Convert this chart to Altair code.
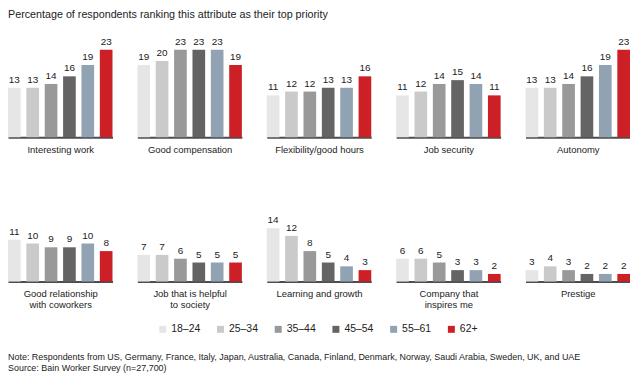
import altair as alt
import pandas as pd

FONT = "Liberation Sans"

ages = ["18–24", "25–34", "35–44", "45–54", "55–61", "62+"]
colors = ["#e6e6e6", "#cacaca", "#999999", "#646464", "#91a3b2", "#cc1f26"]

attributes = [
    ["Interesting work"],
    ["Good compensation"],
    ["Flexibility/good hours"],
    ["Job security"],
    ["Autonomy"],
    ["Good relationship", "with coworkers"],
    ["Job that is helpful", "to society"],
    ["Learning and growth"],
    ["Company that", "inspires me"],
    ["Prestige"],
]

interesting_work = [13, 13, 14, 16, 19, 23]
good_compensation = [19, 20, 23, 23, 23, 19]
flexibility = [11, 12, 12, 13, 13, 16]
job_security = [11, 12, 14, 15, 14, 11]
autonomy = [13, 13, 14, 16, 19, 23]
good_relationship = [11, 10, 9, 9, 10, 8]
helpful_to_society = [7, 7, 6, 5, 5, 5]
learning_growth = [14, 12, 8, 5, 4, 3]
inspiring_company = [6, 6, 5, 3, 3, 2]
prestige = [3, 4, 3, 2, 2, 2]

series = [interesting_work, good_compensation, flexibility, job_security, autonomy,
          good_relationship, helpful_to_society, learning_growth, inspiring_company, prestige]

title_text = "Percentage of respondents ranking this attribute as their top priority"
note_lines = [
    "Note: Respondents from US, Germany, France, Italy, Japan, Australia, Canada, Finland, Denmark, Norway, Saudi Arabia, Sweden, UK, and UAE",
    "Source: Bain Worker Survey (n=27,700)",
]

PW, PH = 105, 88
TOTAL_W = 5 * PW + 4 * 25
LEG_STEP = 58
LEG_X0 = (TOTAL_W - 6 * LEG_STEP) / 2

color_scale = alt.Scale(domain=ages, range=colors)


def panel(attr, vals):
    d = pd.DataFrame({"age": ages, "value": vals})
    base = alt.Chart(d).encode(
        x=alt.X("age:N", sort=ages,
                scale=alt.Scale(domain=ages, paddingInner=0.31, paddingOuter=0),
                axis=alt.Axis(labels=False, ticks=False, grid=False,
                              title=attr, titleFont=FONT, titleFontSize=9.5,
                              titleFontWeight="normal", titleColor="#222",
                              titlePadding=7, titleLineHeight=11.5,
                              domainColor="#4d4d4d", domainWidth=2)),
        y=alt.Y("value:Q", axis=None, scale=alt.Scale(domain=[0, 23])),
    )
    bars = base.mark_bar().encode(color=alt.Color("age:N", scale=color_scale, legend=None))
    vlab = base.mark_text(baseline="bottom", dy=-3, fontSize=10, font=FONT,
                          color="#222").encode(text="value:Q")
    return alt.layer(bars, vlab).properties(width=PW, height=PH)


panels = [panel(a, v) for a, v in zip(attributes, series)]
row1 = alt.hconcat(*panels[:5], spacing=25, bounds="flush")
row2 = alt.hconcat(*panels[5:], spacing=25, bounds="flush")

# legend drawn as its own small chart
leg_df = pd.DataFrame({"age": ages})
leg_x = alt.X("age:N", sort=ages, axis=None,
              scale=alt.Scale(domain=ages, paddingInner=0, paddingOuter=0,
                              range=[LEG_X0, LEG_X0 + 6 * LEG_STEP]))
leg_sym = alt.Chart(leg_df).mark_square(size=49, xOffset=-12, opacity=1).encode(
    x=leg_x, y=alt.value(7),
    color=alt.Color("age:N", scale=color_scale, legend=None),
)
leg_txt = alt.Chart(leg_df).mark_text(align="left", baseline="middle", dx=-3.5,
                                      fontSize=10.5, font=FONT, color="#222").encode(
    x=leg_x, y=alt.value(7), text="age:N"
)
legend = alt.layer(leg_sym, leg_txt).properties(width=TOTAL_W, height=14)

note_df = pd.DataFrame({"line": note_lines, "i": list(range(len(note_lines)))})
note = alt.Chart(note_df).mark_text(
    align="left", baseline="middle", fontSize=9, font=FONT, color="#222"
).encode(
    text="line:N",
    y=alt.Y("i:O", axis=None, sort=None),
    x=alt.value(0),
).properties(width=TOTAL_W, height=22)

bottom = alt.vconcat(legend, note, spacing=15)
lower = alt.vconcat(row2, bottom, spacing=13)

chart = alt.vconcat(row1, lower, spacing=40).properties(
    title=alt.TitleParams(title_text, anchor="start", fontSize=10.8, font=FONT,
                          fontWeight="normal", color="#222", offset=15, dy=-2),
    padding={"left": 0, "top": 0, "right": 0, "bottom": 0},
).configure_view(stroke=None)

chart.save("out.html", embed_options={"renderer": "svg", "actions": False})
